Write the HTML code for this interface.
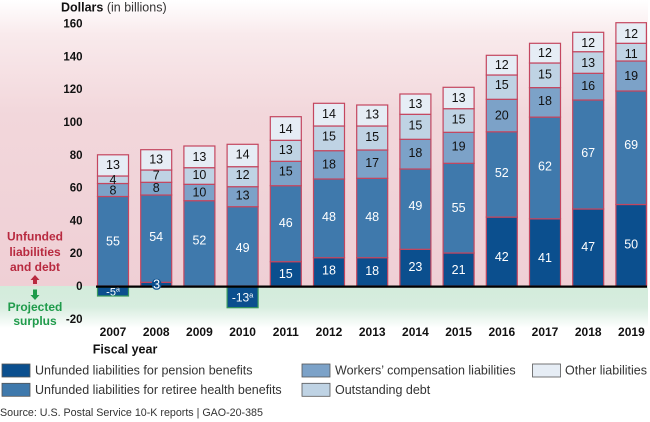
<!DOCTYPE html>
<html><head><meta charset="utf-8"><style>
html,body{margin:0;padding:0;background:#fff;}
svg{display:block;}
text{font-family:"Liberation Sans",Arial,sans-serif;}
.p{fill:#0b4f8e;stroke:#c4465f;stroke-width:1.2}
.r{fill:#3f79ac;stroke:#c4465f;stroke-width:1.2}
.w{fill:#7ca2c8;stroke:#c4465f;stroke-width:1.2}
.d{fill:#bfd3e4;stroke:#c4465f;stroke-width:1.2}
.o{fill:#e6edf5;stroke:#c4465f;stroke-width:1.2}
.n{fill:#0b4f8e;stroke:#3a9a5c;stroke-width:1.2}
.lw{fill:#fff;font-size:12.5px;text-anchor:middle}
.lb{fill:#111;font-size:12.5px;text-anchor:middle}
.tk{fill:#111;font-size:11.5px;font-weight:bold;text-anchor:end}
.yr{fill:#111;font-size:12px;font-weight:bold;text-anchor:middle}
.lg{fill:#333;font-size:12.5px}
.sw{stroke:#555;stroke-width:0.8}
</style></head><body>
<svg width="650" height="422" viewBox="0 0 650 422" xmlns="http://www.w3.org/2000/svg">
<defs>
<linearGradient id="pk" x1="0" y1="0" x2="0" y2="1">
<stop offset="0" stop-color="#ffffff"/>
<stop offset="0.12" stop-color="#f9eaec"/>
<stop offset="0.4" stop-color="#f2d7db"/>
<stop offset="1" stop-color="#efcfd5"/>
</linearGradient>
<linearGradient id="gr" x1="0" y1="0" x2="0" y2="1">
<stop offset="0" stop-color="#d3ebdb"/>
<stop offset="0.5" stop-color="#d7eddf"/>
<stop offset="1" stop-color="#ffffff"/>
</linearGradient>
</defs>
<rect x="0" y="0" width="648" height="286" fill="url(#pk)"/>
<rect x="0" y="286" width="648" height="42" fill="url(#gr)"/>

<!-- title -->
<text x="61" y="11.5" font-size="12.5" font-weight="bold" fill="#111">Dollars <tspan font-weight="normal" fill="#333">(in billions)</tspan></text>

<!-- ticks -->
<text class="tk" x="82.5" y="27.6">160</text>
<text class="tk" x="82.5" y="60.4">140</text>
<text class="tk" x="82.5" y="93.2">120</text>
<text class="tk" x="82.5" y="126">100</text>
<text class="tk" x="82.5" y="158.8">80</text>
<text class="tk" x="82.5" y="191.6">60</text>
<text class="tk" x="82.5" y="224.4">40</text>
<text class="tk" x="82.5" y="257.2">20</text>
<text class="tk" x="82.5" y="290">0</text>
<text class="tk" x="82.5" y="322.8">-20</text>

<!-- left annotations -->
<g font-size="12" font-weight="bold" text-anchor="middle" fill="#b8293f">
<text x="35" y="240.3">Unfunded</text>
<text x="35" y="256">liabilities</text>
<text x="35" y="271">and debt</text>
</g>
<polygon points="35,275 39.5,280 37,280 37,284 33,284 33,280 30.5,280" fill="#b8293f"/>
<polygon points="35,300 39.5,295 37,295 37,289.5 33,289.5 33,295 30.5,295" fill="#1f9b4b"/>
<g font-size="12" font-weight="bold" text-anchor="middle" fill="#1f9b4b">
<text x="35" y="311">Projected</text>
<text x="35" y="325">surplus</text>
</g>

<!-- 2007 -->
<rect class="r" x="97.5" y="196.5" width="31" height="89.5"/>
<rect class="w" x="97.5" y="183.5" width="31" height="13"/>
<rect class="d" x="97.5" y="176" width="31" height="7.5"/>
<rect class="o" x="97.5" y="154.8" width="31" height="21.2"/>
<rect class="n" x="97.5" y="287" width="31" height="9"/>
<text class="lw" x="113" y="245.5">55</text>
<text class="lb" x="113" y="194.5">8</text>
<text class="lb" x="113" y="184.2">4</text>
<text class="lb" x="113" y="168.8">13</text>
<text x="113" y="295.5" fill="#fff" font-size="11" text-anchor="middle">-5<tspan font-size="7" dy="-4">a</tspan></text>

<!-- 2008 -->
<rect class="p" x="140.7" y="282.3" width="31" height="3.7"/>
<rect class="r" x="140.7" y="195" width="31" height="87.3"/>
<rect class="w" x="140.7" y="182.3" width="31" height="12.7"/>
<rect class="d" x="140.7" y="170" width="31" height="12.3"/>
<rect class="o" x="140.7" y="149.7" width="31" height="20.3"/>
<text class="lw" x="156.2" y="241.2">54</text>
<text class="lb" x="156.2" y="192.2">8</text>
<text class="lb" x="156.2" y="179.5">7</text>
<text class="lb" x="156.2" y="163.5">13</text>

<!-- 2009 -->
<rect class="r" x="183.9" y="200.7" width="31" height="85.3"/>
<rect class="w" x="183.9" y="184.3" width="31" height="16.4"/>
<rect class="d" x="183.9" y="167.7" width="31" height="16.6"/>
<rect class="o" x="183.9" y="146" width="31" height="21.7"/>
<text class="lw" x="199.4" y="244.5">52</text>
<text class="lb" x="199.4" y="196.5">10</text>
<text class="lb" x="199.4" y="178.8">10</text>
<text class="lb" x="199.4" y="161.2">13</text>

<!-- 2010 -->
<rect class="r" x="227.1" y="206.7" width="31" height="79.3"/>
<rect class="w" x="227.1" y="186.7" width="31" height="20"/>
<rect class="d" x="227.1" y="166.7" width="31" height="20"/>
<rect class="o" x="227.1" y="144.3" width="31" height="22.4"/>
<rect class="n" x="227.1" y="287" width="31" height="20.7"/>
<text class="lw" x="242.6" y="252.2">49</text>
<text class="lb" x="242.6" y="199.5">13</text>
<text class="lb" x="242.6" y="178.8">12</text>
<text class="lb" x="242.6" y="158.5">14</text>
<text x="242.6" y="301.5" fill="#fff" font-size="12" text-anchor="middle">-13<tspan font-size="7.5" dy="-4">a</tspan></text>

<!-- 2011 -->
<rect class="p" x="270.3" y="261.7" width="31" height="24.3"/>
<rect class="r" x="270.3" y="185.7" width="31" height="76"/>
<rect class="w" x="270.3" y="161.3" width="31" height="24.4"/>
<rect class="d" x="270.3" y="140.3" width="31" height="21"/>
<rect class="o" x="270.3" y="116.7" width="31" height="23.6"/>
<text class="lw" x="285.8" y="277.8">15</text>
<text class="lw" x="285.8" y="227.2">46</text>
<text class="lb" x="285.8" y="175.5">15</text>
<text class="lb" x="285.8" y="153.8">13</text>
<text class="lb" x="285.8" y="132.8">14</text>

<!-- 2012 -->
<rect class="p" x="313.5" y="257.7" width="31" height="28.3"/>
<rect class="r" x="313.5" y="179" width="31" height="78.7"/>
<rect class="w" x="313.5" y="150.7" width="31" height="28.3"/>
<rect class="d" x="313.5" y="126" width="31" height="24.7"/>
<rect class="o" x="313.5" y="103.3" width="31" height="22.7"/>
<text class="lw" x="329" y="274.5">18</text>
<text class="lw" x="329" y="221.2">48</text>
<text class="lb" x="329" y="168.5">18</text>
<text class="lb" x="329" y="140.5">15</text>
<text class="lb" x="329" y="117.8">14</text>

<!-- 2013 -->
<rect class="p" x="356.7" y="257.7" width="31" height="28.3"/>
<rect class="r" x="356.7" y="178.3" width="31" height="79.4"/>
<rect class="w" x="356.7" y="150" width="31" height="28.3"/>
<rect class="d" x="356.7" y="126" width="31" height="24"/>
<rect class="o" x="356.7" y="105" width="31" height="21"/>
<text class="lw" x="372.2" y="275.2">18</text>
<text class="lw" x="372.2" y="221.2">48</text>
<text class="lb" x="372.2" y="166.8">17</text>
<text class="lb" x="372.2" y="141.2">15</text>
<text class="lb" x="372.2" y="118.5">13</text>

<!-- 2014 -->
<rect class="p" x="399.9" y="249.3" width="31" height="36.7"/>
<rect class="r" x="399.9" y="169" width="31" height="80.3"/>
<rect class="w" x="399.9" y="139.3" width="31" height="29.7"/>
<rect class="d" x="399.9" y="114.3" width="31" height="25"/>
<rect class="o" x="399.9" y="94" width="31" height="20.3"/>
<text class="lw" x="415.4" y="271.2">23</text>
<text class="lw" x="415.4" y="210.2">49</text>
<text class="lb" x="415.4" y="157.2">18</text>
<text class="lb" x="415.4" y="129.5">15</text>
<text class="lb" x="415.4" y="107.8">13</text>

<!-- 2015 -->
<rect class="p" x="443.1" y="253" width="31" height="33"/>
<rect class="r" x="443.1" y="163.3" width="31" height="89.7"/>
<rect class="w" x="443.1" y="132.3" width="31" height="31"/>
<rect class="d" x="443.1" y="108.7" width="31" height="23.6"/>
<rect class="o" x="443.1" y="87.3" width="31" height="21.4"/>
<text class="lw" x="458.6" y="273.8">21</text>
<text class="lw" x="458.6" y="211.8">55</text>
<text class="lb" x="458.6" y="150.5">19</text>
<text class="lb" x="458.6" y="123.5">15</text>
<text class="lb" x="458.6" y="101.8">13</text>

<!-- 2016 -->
<rect class="p" x="486.3" y="217.1" width="31" height="68.9"/>
<rect class="r" x="486.3" y="131.8" width="31" height="85.3"/>
<rect class="w" x="486.3" y="99.3" width="31" height="32.5"/>
<rect class="d" x="486.3" y="75" width="31" height="24.3"/>
<rect class="o" x="486.3" y="55.3" width="31" height="19.7"/>
<text class="lw" x="501.8" y="261.2">42</text>
<text class="lw" x="501.8" y="177.2">52</text>
<text class="lb" x="501.8" y="119.5">20</text>
<text class="lb" x="501.8" y="88.8">15</text>
<text class="lb" x="501.8" y="68.8">12</text>

<!-- 2017 -->
<rect class="p" x="529.5" y="218.8" width="31" height="67.2"/>
<rect class="r" x="529.5" y="117.1" width="31" height="101.7"/>
<rect class="w" x="529.5" y="87.6" width="31" height="29.5"/>
<rect class="d" x="529.5" y="63" width="31" height="24.6"/>
<rect class="o" x="529.5" y="43.3" width="31" height="19.7"/>
<text class="lw" x="545" y="262.2">41</text>
<text class="lw" x="545" y="170.5">62</text>
<text class="lb" x="545" y="105.2">18</text>
<text class="lb" x="545" y="78.5">15</text>
<text class="lb" x="545" y="56.8">12</text>

<!-- 2018 -->
<rect class="p" x="572.7" y="209" width="31" height="77"/>
<rect class="r" x="572.7" y="100" width="31" height="109"/>
<rect class="w" x="572.7" y="73.3" width="31" height="26.7"/>
<rect class="d" x="572.7" y="51.7" width="31" height="21.6"/>
<rect class="o" x="572.7" y="32.3" width="31" height="19.4"/>
<text class="lw" x="588.2" y="251.2">47</text>
<text class="lw" x="588.2" y="156.8">67</text>
<text class="lb" x="588.2" y="90.2">16</text>
<text class="lb" x="588.2" y="66.8">13</text>
<text class="lb" x="588.2" y="46.8">12</text>

<!-- 2019 -->
<rect class="p" x="615.9" y="204.5" width="30.5" height="81.5"/>
<rect class="r" x="615.9" y="91" width="30.5" height="113.5"/>
<rect class="w" x="615.9" y="61" width="30.5" height="30"/>
<rect class="d" x="615.9" y="43.3" width="30.5" height="17.7"/>
<rect class="o" x="615.9" y="22.7" width="30.5" height="20.6"/>
<text class="lw" x="631.2" y="248.5">50</text>
<text class="lw" x="631.2" y="148.8">69</text>
<text class="lb" x="631.2" y="80.2">19</text>
<text class="lb" x="631.2" y="57.8">11</text>
<text class="lb" x="631.2" y="37.8">12</text>

<!-- zero line -->
<line x1="96" y1="286.6" x2="647" y2="286.6" stroke="#000" stroke-width="2.2"/>

<!-- 2008 "3" label -->
<ellipse cx="156.6" cy="284.3" rx="5" ry="5.5" fill="#0b4f8e"/>
<text x="156.6" y="288.7" fill="#fff" font-size="12.5" text-anchor="middle">3</text>

<!-- years -->
<text class="yr" x="113" y="336">2007</text>
<text class="yr" x="156.2" y="336">2008</text>
<text class="yr" x="199.4" y="336">2009</text>
<text class="yr" x="242.6" y="336">2010</text>
<text class="yr" x="285.8" y="336">2011</text>
<text class="yr" x="329" y="336">2012</text>
<text class="yr" x="372.2" y="336">2013</text>
<text class="yr" x="415.4" y="336">2014</text>
<text class="yr" x="458.6" y="336">2015</text>
<text class="yr" x="501.8" y="336">2016</text>
<text class="yr" x="545" y="336">2017</text>
<text class="yr" x="588.2" y="336">2018</text>
<text class="yr" x="631.4" y="336">2019</text>

<text x="92.7" y="353.5" font-size="12.5" font-weight="bold" fill="#111">Fiscal year</text>

<!-- legend -->
<rect class="sw" x="2" y="364" width="28" height="13" fill="#0b4f8e"/>
<text class="lg" x="35" y="374.5">Unfunded liabilities for pension benefits</text>
<rect class="sw" x="2" y="383.3" width="28" height="13" fill="#3f79ac"/>
<text class="lg" x="35" y="393.8">Unfunded liabilities for retiree health benefits</text>
<rect class="sw" x="302" y="364" width="28" height="13" fill="#7ca2c8"/>
<text class="lg" x="335" y="374.5">Workers’ compensation liabilities</text>
<rect class="sw" x="302" y="383.3" width="28" height="13" fill="#bfd3e4"/>
<text class="lg" x="335" y="393.8">Outstanding debt</text>
<rect class="sw" x="532.5" y="364" width="28" height="13" fill="#e6edf5"/>
<text class="lg" x="565" y="374.5">Other liabilities</text>

<text x="0" y="416" font-size="10.7" fill="#333">Source: U.S. Postal Service 10-K reports | GAO-20-385</text>
</svg>
</body></html>
